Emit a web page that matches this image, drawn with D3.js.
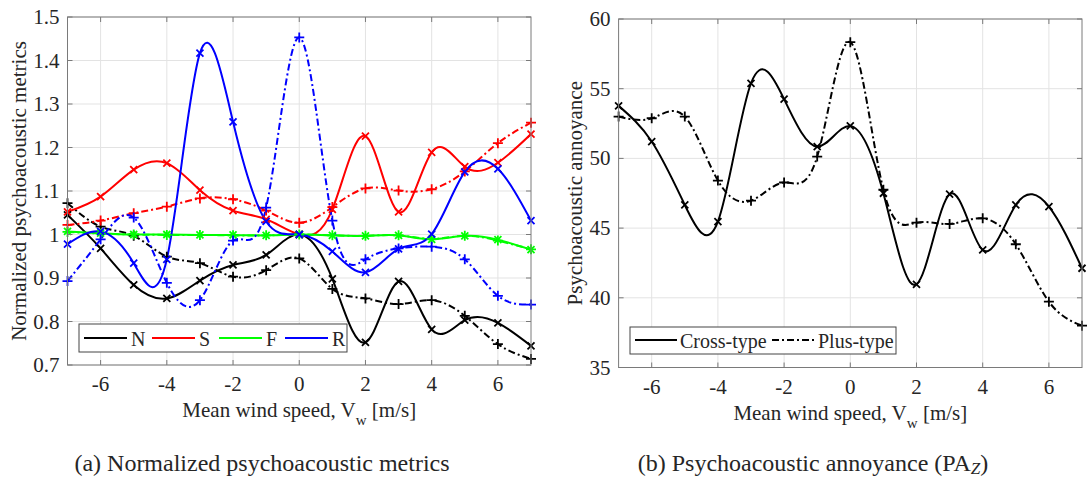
<!DOCTYPE html>
<html><head><meta charset="utf-8">
<script src="https://cdn.jsdelivr.net/npm/d3@7"></script>
<style>
body{margin:0;background:#fff}
svg{display:block}
text{font-family:"Liberation Serif","Times New Roman",serif;fill:#262626}
</style>
</head><body>
<svg id="c" width="1089" height="480"></svg>
<script>
// ---------- data ----------
const windSpeed = [-7,-6,-5,-4,-3,-2,-1,0,1,2,3,4,5,6,7];
const xTicks = [-6,-4,-2,0,2,4,6];

// (a) normalized psychoacoustic metrics: cross-type (solid, x) and plus-type (dash-dot, +)
const N_cross = [1.045,0.968,0.884,0.853,0.894,0.930,0.953,1.000,0.898,0.752,0.892,0.782,0.803,0.797,0.744];
const N_plus  = [1.072,1.018,0.997,0.949,0.934,0.903,0.918,0.945,0.875,0.853,0.840,0.849,0.813,0.748,0.714];
const S_cross = [1.052,1.087,1.149,1.164,1.102,1.055,1.035,1.000,1.058,1.226,1.052,1.189,1.156,1.165,1.231];
const S_plus  = [1.022,1.032,1.049,1.064,1.083,1.081,1.055,1.027,1.063,1.106,1.101,1.104,1.145,1.210,1.257];
const F_cross = [1.007,1.003,1.000,1.000,0.999,0.999,0.998,1.000,0.998,0.997,0.998,0.989,0.997,0.988,0.965];
const F_plus  = [1.006,1.002,1.000,0.999,0.999,0.998,0.998,1.000,0.998,0.997,0.998,0.990,0.997,0.986,0.966];
const R_cross = [0.978,1.007,0.934,0.943,1.417,1.259,1.030,1.000,0.961,0.913,0.967,1.001,1.144,1.151,1.032];
const R_plus  = [0.893,0.989,1.039,0.889,0.849,0.986,1.062,1.453,1.032,0.943,0.968,0.972,0.943,0.859,0.839];
const metricNames = ["N","S","F","R"];
const metricColors = ["#000000","#ff0000","#00ff00","#0000ff"];
const yTicksA = [0.7,0.8,0.9,1.0,1.1,1.2,1.3,1.4,1.5];

// (b) psychoacoustic annoyance
const PA_cross = [53.77,51.21,46.66,45.47,55.39,54.25,50.85,52.33,47.50,40.97,47.43,43.43,46.66,46.54,42.12];
const PA_plus  = [53.00,52.88,53.00,48.41,46.97,48.27,50.13,58.34,47.75,45.39,45.30,45.70,43.84,39.72,38.00];
const yTicksB = [35,40,45,50,55,60];
const typeNames = ["Cross-type","Plus-type"];

// ---------- drawing ----------
const svg = d3.select("#c");
const DASHDOT = "7,3,2,3";
const FONT = 21;
const LFONT = 20;

function panel(cfg){
  const g = svg.append("g");
  const x = d3.scaleLinear().domain([-7,7]).range(cfg.xr);
  const y = d3.scaleLinear().domain(cfg.yd).range(cfg.yr);
  const [x0,x1] = cfg.xr, [y0,y1] = cfg.yr; // y0 bottom, y1 top

  // grid
  g.append("g").selectAll("line").data(xTicks).join("line")
    .attr("x1",d=>x(d)).attr("x2",d=>x(d)).attr("y1",y1).attr("y2",y0)
    .attr("stroke","#e3e3e3").attr("stroke-width",1);
  g.append("g").selectAll("line").data(cfg.yTicks).join("line")
    .attr("x1",x0).attr("x2",x1).attr("y1",d=>y(d)).attr("y2",d=>y(d))
    .attr("stroke","#e3e3e3").attr("stroke-width",1);

  // clip
  const cid = "clip"+cfg.id;
  svg.append("clipPath").attr("id",cid).append("rect")
    .attr("x",x0).attr("y",y1).attr("width",x1-x0).attr("height",y0-y1);
  const plot = g.append("g").attr("clip-path",`url(#${cid})`);

  const line = d3.line().x((d,i)=>x(windSpeed[i])).y(d=>y(d)).curve(d3.curveNatural);
  cfg.series.forEach(s=>{
    plot.append("path").datum(s.values).attr("d",line)
      .attr("fill","none").attr("stroke",s.color).attr("stroke-width",2)
      .attr("stroke-dasharray",s.dash?DASHDOT:null);
    const mk = s.marker==="x" ? "M-3.5,-3.5L3.5,3.5M-3.5,3.5L3.5,-3.5" : "M-5,0L5,0M0,-5L0,5";
    g.append("g").selectAll("path").data(s.values).join("path")
      .attr("d",mk).attr("transform",(d,i)=>`translate(${x(windSpeed[i])},${y(d)})`)
      .attr("stroke",s.color).attr("stroke-width",1.8).attr("fill","none");
  });

  // axes (box with inward ticks)
  const ax = g.append("g").attr("stroke","#7a7a7a").attr("stroke-width",1).attr("fill","none");
  ax.append("rect").attr("x",x0).attr("y",y1).attr("width",x1-x0).attr("height",y0-y1);
  xTicks.forEach(t=>{
    ax.append("line").attr("x1",x(t)).attr("x2",x(t)).attr("y1",y0).attr("y2",y0-5);
    ax.append("line").attr("x1",x(t)).attr("x2",x(t)).attr("y1",y1).attr("y2",y1+5);
  });
  cfg.yTicks.forEach(t=>{
    ax.append("line").attr("x1",x0).attr("x2",x0+5).attr("y1",y(t)).attr("y2",y(t));
    ax.append("line").attr("x1",x1).attr("x2",x1-5).attr("y1",y(t)).attr("y2",y(t));
  });

  // tick labels
  g.append("g").selectAll("text").data(xTicks).join("text")
    .attr("x",d=>x(d)).attr("y",y0+26).attr("text-anchor","middle")
    .attr("font-size",FONT).text(d=>d);
  g.append("g").selectAll("text").data(cfg.yTicks).join("text")
    .attr("x",x0-8).attr("y",d=>y(d)+7).attr("text-anchor","end")
    .attr("font-size",FONT).text(cfg.yFmt);

  // x label
  const xl = g.append("text").attr("x",(x0+x1)/2).attr("y",y0+52)
    .attr("text-anchor","middle").attr("font-size",FONT);
  xl.append("tspan").text("Mean wind speed, V");
  xl.append("tspan").attr("dy",8).attr("font-size",15).text("w");
  xl.append("tspan").attr("dy",-8).text(" [m/s]");

  // y label
  g.append("text").attr("transform",`translate(${cfg.ylx},${(y0+y1)/2}) rotate(-90)`)
    .attr("text-anchor","middle").attr("font-size",FONT).text(cfg.ylabel);

  return {g,x,y};
}

// panel (a)
const seriesA = [];
[[N_cross,N_plus],[S_cross,S_plus],[F_cross,F_plus],[R_cross,R_plus]].forEach((p,k)=>{
  seriesA.push({values:p[0],color:metricColors[k],dash:false,marker:"x"});
  seriesA.push({values:p[1],color:metricColors[k],dash:true,marker:"+"});
});
const A = panel({id:"a",xr:[67.5,531],yr:[365,17],yd:[0.7,1.5],yTicks:yTicksA,
  yFmt:d=>d===1?"1":d.toFixed(1),series:seriesA,ylabel:"Normalized psychoacoustic metrics",ylx:26});

// legend (a)
{
  const lg = A.g.append("g");
  lg.append("rect").attr("x",79).attr("y",324).attr("width",268).attr("height",28)
    .attr("fill","#fff").attr("stroke","#444").attr("stroke-width",1);
  const lx = [84,152,219,285];
  metricNames.forEach((n,k)=>{
    lg.append("line").attr("x1",lx[k]).attr("x2",lx[k]+43).attr("y1",338).attr("y2",338)
      .attr("stroke",metricColors[k]).attr("stroke-width",2);
    lg.append("text").attr("x",lx[k]+47).attr("y",346).attr("font-size",LFONT).text(n);
  });
}

// panel (b)
const B = panel({id:"b",xr:[618.6,1082],yr:[367.5,19],yd:[35,60],yTicks:yTicksB,
  yFmt:d=>d,series:[
    {values:PA_cross,color:"#000",dash:false,marker:"x"},
    {values:PA_plus,color:"#000",dash:true,marker:"+"}],
  ylabel:"Psychoacoustic annoyance",ylx:582});

// legend (b)
{
  const lg = B.g.append("g");
  lg.append("rect").attr("x",630).attr("y",327).attr("width",266).attr("height",27)
    .attr("fill","#fff").attr("stroke","#444").attr("stroke-width",1);
  lg.append("line").attr("x1",635).attr("x2",677).attr("y1",340).attr("y2",340)
    .attr("stroke","#000").attr("stroke-width",2);
  lg.append("text").attr("x",680).attr("y",348).attr("font-size",LFONT).text(typeNames[0]);
  lg.append("line").attr("x1",772).attr("x2",814).attr("y1",340).attr("y2",340)
    .attr("stroke","#000").attr("stroke-width",2).attr("stroke-dasharray",DASHDOT);
  lg.append("text").attr("x",818).attr("y",348).attr("font-size",LFONT).text(typeNames[1]);
}

// captions
svg.append("text").attr("x",262).attr("y",471).attr("text-anchor","middle")
  .attr("font-size",24).text("(a) Normalized psychoacoustic metrics");
{
  const t = svg.append("text").attr("x",813).attr("y",471).attr("text-anchor","middle").attr("font-size",24);
  t.append("tspan").text("(b) Psychoacoustic annoyance (PA");
  t.append("tspan").attr("font-style","italic").attr("font-size",17).attr("dy",3).text("Z");
  t.append("tspan").attr("dy",-3).text(")");
}
</script>
</body></html>
